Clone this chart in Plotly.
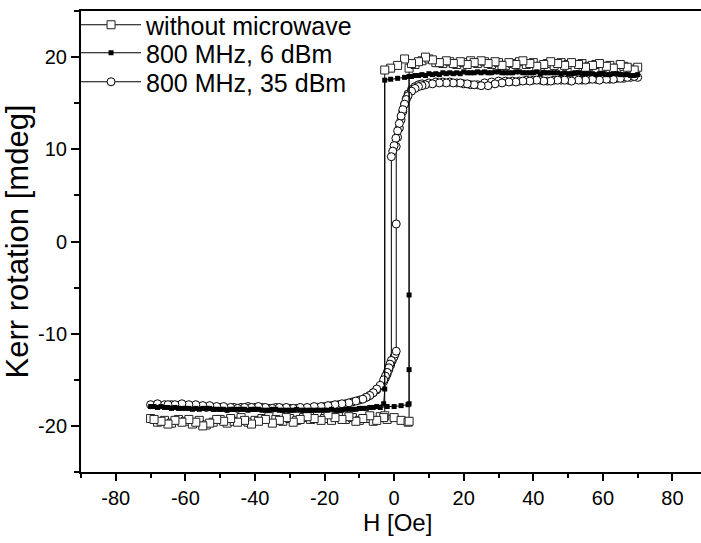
import plotly.graph_objects as go

# ---------------- data ----------------
# without microwave (open squares)
h_nomw = [-70, -68, -66, -64, -62, -60, -58, -56, -54, -52, -50, -48, -46, -44, -42, -40, -38, -36, -34, -32,
          -30, -28, -26, -24, -22, -20, -18, -16, -14, -12, -10, -8, -6, -4, -2, 0, 2, 4, 4.3, 4.3,
          6, 8, 10, 12, 14, 16, 18, 20, 22, 24, 26, 28, 30, 32, 34, 36, 38, 40, 42, 44, 46, 48, 50, 52,
          54, 56, 58, 60, 62, 64, 66, 68, 70,
          69, 67, 65, 63, 61, 59, 57, 55, 53, 51, 49, 47, 45, 43, 41, 39, 37, 35, 33, 31, 29, 27, 25, 23,
          21, 19, 17, 15, 13, 11, 9, 7, 5, 3, 1, -1, -2.7, -2.7,
          -3, -5, -7, -9, -11, -13, -15, -17, -19, -21, -23, -25, -27, -29, -31, -33, -35, -37, -39, -41,
          -43, -45, -47, -49, -51, -53, -55, -57, -59, -61, -63, -65, -67, -69]
k_nomw = [-19.2, -19.6, -19.4, -19.7, -19.3, -19.5, -19.8, -19.4, -19.9, -19.6, -19.3, -19.7, -19.5, -19.1,
          -19.6, -19.4, -19.2, -19.0, -19.3, -19.5, -19.2, -19.4, -19.1, -19.3, -18.9, -19.2, -19.4, -19.0,
          -19.3, -19.1, -19.4, -19.2, -19.5, -19.0, -19.3, -19.1, -19.4, -19.6, -19.5, 18.8,
          19.2, 19.6, 19.8, 19.4, 19.3, 19.5, 19.2, 19.4, 19.6, 19.3, 19.5, 19.2, 19.4, 19.1, 19.3, 19.5,
          19.2, 19.4, 19.0, 19.3, 19.1, 19.4, 19.2, 18.9, 19.3, 19.0, 19.2, 18.9, 19.1, 18.8, 19.0, 18.7, 18.9,
          18.6, 18.9, 19.2, 18.8, 19.0, 19.3, 19.1, 18.9, 19.2, 19.4, 19.1, 19.3, 19.5, 19.2, 19.0, 19.3,
          19.6, 19.2, 19.4, 19.1, 19.5, 19.3, 19.6, 19.4, 19.2, 19.5, 19.3, 19.6, 19.4, 19.7, 20.0, 19.5,
          19.3, 19.8, 19.1, 18.8, 18.6, -18.9,
          -19.1, -19.4, -18.9, -19.2, -19.5, -19.0, -19.3, -19.1, -18.8, -19.4, -19.2, -19.0, -19.3, -19.6,
          -19.1, -19.4, -19.7, -19.3, -19.5, -19.8, -19.4, -19.6, -19.2, -19.5, -19.3, -19.7, -20.0, -19.6,
          -19.3, -19.6, -19.4, -19.8, -19.5, -19.3]

# 800 MHz, 6 dBm (filled squares)
h_6dbm = [-70, -68, -66, -64, -62, -60, -58, -56, -54, -52, -50, -48, -46, -44, -42, -40, -38, -36, -34, -32,
          -30, -28, -26, -24, -22, -20, -18, -16, -14, -12, -10, -8, -6, -4, -2, 0, 2, 4, 4.3, 4.3, 4.3, 4.3,
          6, 8, 10, 12, 14, 16, 18, 20, 22, 24, 26, 28, 30, 32, 34, 36, 38, 40, 42, 44, 46, 48, 50, 52,
          54, 56, 58, 60, 62, 64, 66, 68, 70,
          69, 67, 65, 63, 61, 59, 57, 55, 53, 51, 49, 47, 45, 43, 41, 39, 37, 35, 33, 31, 29, 27, 25, 23,
          21, 19, 17, 15, 13, 11, 9, 7, 5, 3, 1, -1, -2.7, -2.7,
          -3, -5, -7, -9, -11, -13, -15, -17, -19, -21, -23, -25, -27, -29, -31, -33, -35, -37, -39, -41,
          -43, -45, -47, -49, -51, -53, -55, -57, -59, -61, -63, -65, -67, -69]
k_6dbm = [-17.9, -18.0, -18.0, -18.1, -18.1, -18.1, -18.2, -18.2, -18.1, -18.2, -18.2, -18.3, -18.2, -18.2,
          -18.3, -18.2, -18.3, -18.3, -18.2, -18.3, -18.3, -18.2, -18.3, -18.3, -18.3, -18.3, -18.2, -18.3,
          -18.2, -18.2, -18.1, -18.1, -18.0, -18.0, -17.9, -17.9, -17.8, -17.7, -17.6, -13.9, -5.8, 17.9,
          18.0, 18.1, 18.2, 18.2, 18.3, 18.3, 18.3, 18.4, 18.3, 18.4, 18.4, 18.3, 18.4, 18.3, 18.3, 18.4,
          18.3, 18.3, 18.2, 18.3, 18.3, 18.2, 18.2, 18.3, 18.2, 18.2, 18.1, 18.2, 18.1, 18.2, 18.1, 18.0, 18.1,
          18.0, 18.1, 18.1, 18.2, 18.1, 18.2, 18.2, 18.2, 18.3, 18.2, 18.3, 18.3, 18.3, 18.3, 18.4, 18.3,
          18.3, 18.4, 18.3, 18.3, 18.4, 18.3, 18.3, 18.3, 18.3, 18.2, 18.2, 18.2, 18.1, 18.1, 18.0, 18.0,
          17.9, 17.8, 17.7, 17.6, 17.5, -16.0,
          -17.6, -17.9, -18.0, -18.1, -18.2, -18.2, -18.3, -18.3, -18.3, -18.3, -18.3, -18.3, -18.3, -18.3,
          -18.3, -18.3, -18.2, -18.3, -18.2, -18.2, -18.2, -18.2, -18.2, -18.2, -18.2, -18.1, -18.1, -18.1,
          -18.1, -18.1, -18.0, -18.0, -17.9, -17.9]

# 800 MHz, 35 dBm (open circles)
h_35dbm = [-70, -68, -66, -64, -62, -60, -58, -56, -54, -52, -50, -48, -46, -44, -42, -40, -38, -36, -34, -32,
           -30, -28, -26, -24, -22, -20, -18, -16, -14, -12, -10, -8, -7, -6, -5, -4, -3, -2.5, -2, -1.5,
           -1, -0.5, 0, 0.3, 0.6, 0.6, 0.6, 1, 1.5, 2, 2.5, 3, 3.5, 4, 5, 6, 7, 8, 10, 12, 14, 16, 18, 20,
           22, 24, 26, 28, 30, 32, 34, 36, 38, 40, 42, 44, 46, 48, 50, 52, 54, 56, 58, 60, 62, 64, 66, 68, 70,
           69, 67, 65, 63, 61, 59, 57, 55, 53, 51, 49, 47, 45, 43, 41, 39, 37, 35, 33, 31, 29, 27, 25, 23,
           21, 19, 17, 15, 13, 11, 9, 8, 7, 6, 5, 4, 3.5, 3, 2.5, 2, 1.5, 1, 0.5, 0, -0.4, -0.8, -0.8,
           -1.2, -1.5, -2, -2.5, -3, -4, -5, -6, -7, -8, -9, -11, -13, -15, -17, -19, -21, -23, -25, -27,
           -29, -31, -33, -35, -37, -39, -41, -43, -45, -47, -49, -51, -53, -55, -57, -59, -61, -63, -65,
           -67, -69]
k_35dbm = [-17.7, -17.6, -17.7, -17.7, -17.8, -17.8, -17.9, -17.9, -18.0, -18.0, -18.0, -18.1, -18.0, -18.0,
           -17.9, -18.0, -18.0, -18.1, -18.0, -18.1, -18.1, -18.1, -18.2, -18.1, -18.0, -17.9, -17.8, -17.7,
           -17.6, -17.4, -17.2, -16.9, -16.7, -16.4, -16.1, -15.7, -15.2, -14.8, -14.4, -13.9, -13.4, -12.9,
           -12.5, -12.2, -11.9, 1.9, 10.3, 11.3, 12.3, 13.2, 14.1, 14.9, 15.5, 16.0, 16.5, 16.8, 17.0, 17.1,
           17.2, 17.3, 17.3, 17.3, 17.2, 17.1, 17.0, 17.0, 17.2, 17.3, 17.4, 17.4, 17.4, 17.4, 17.5, 17.5,
           17.5, 17.4, 17.5, 17.5, 17.5, 17.6, 17.5, 17.6, 17.6, 17.7, 17.6, 17.7, 17.7, 17.8, 17.8,
           17.9, 17.8, 17.7, 17.6, 17.6, 17.5, 17.6, 17.5, 17.5, 17.4, 17.5, 17.5, 17.4, 17.4, 17.5, 17.4,
           17.4, 17.3, 17.3, 17.2, 17.1, 16.9, 16.9, 17.0, 17.1, 17.2, 17.2, 17.2, 17.2, 17.1, 17.0, 16.9,
           16.8, 16.6, 16.3, 15.8, 15.4, 14.9, 14.3, 13.6, 12.8, 12.0, 11.2, 10.4, 9.8, 9.2, -12.9,
           -13.3, -13.7, -14.2, -14.6, -15.0, -15.6, -16.0, -16.4, -16.7, -16.9, -17.1, -17.3, -17.5, -17.6,
           -17.7, -17.8, -17.9, -17.9, -18.0, -18.0, -18.1, -18.0, -18.0, -18.1, -18.0, -17.9, -18.0, -18.0,
           -18.1, -18.0, -17.9, -17.9, -17.8, -17.8, -17.7, -17.7, -17.6, -17.7, -17.7]

names = ["without microwave", "800 MHz, 6 dBm", "800 MHz, 35 dBm"]

x_tickvals = [-80, -60, -40, -20, 0, 20, 40, 60, 80]
x_ticktext = ["-80", "-60", "-40", "-20", "0", "20", "40", "60", "80"]
y_tickvals = [-20, -10, 0, 10, 20]
y_ticktext = ["-20", "-10", "0", "10", "20"]

FONT = "Liberation Sans, Arial, sans-serif"
fig = go.Figure()

fig.add_trace(go.Scatter(
    x=h_35dbm, y=k_35dbm, name=names[2], mode="lines+markers", legend="legend3",
    line=dict(color="black", width=1),
    marker=dict(symbol="circle", size=8, color="white", line=dict(color="black", width=1)),
))
fig.add_trace(go.Scatter(
    x=h_nomw, y=k_nomw, name=names[0], mode="lines+markers", legend="legend",
    line=dict(color="black", width=1),
    marker=dict(symbol="square", size=8, color="white", line=dict(color="#222", width=1)),
))
fig.add_trace(go.Scatter(
    x=h_6dbm, y=k_6dbm, name=names[1], mode="lines+markers", legend="legend2",
    line=dict(color="black", width=1),
    marker=dict(symbol="square", size=5, color="black", line=dict(color="black", width=0)),
))

def leg(ypix):
    return dict(
        x=-0.008, y=(472 - ypix) / 461, xanchor="left", yanchor="middle",
        bgcolor="rgba(0,0,0,0)", borderwidth=0,
        font=dict(size=25, family=FONT, color="black"),
        itemwidth=60, visible=True,
    )

fig.update_layout(
    width=701, height=543,
    margin=dict(l=81, r=0, t=11, b=71),
    plot_bgcolor="white", paper_bgcolor="white",
    font=dict(family=FONT, color="black"),
    showlegend=True,
    legend=leg(25), legend2=leg(53), legend3=leg(82),
    xaxis=dict(
        range=[-90, 88.2], showgrid=False, zeroline=False,
        showline=True, linewidth=2, linecolor="black", mirror=True,
        ticks="outside", ticklen=7, tickwidth=1.5, tickcolor="black",
        tickvals=x_tickvals, ticktext=x_ticktext,
        minor=dict(ticks="outside", ticklen=4, tickwidth=1.5, tickcolor="black", dtick=10, tick0=-90, showgrid=False),
        tickfont=dict(size=20, family=FONT),
    ),
    xaxis2=dict(
        range=[-90, 88.2], overlaying="x", side="top", anchor="y",
        showgrid=False, zeroline=False, showline=False, showticklabels=False,
        ticks="inside", ticklen=3, tickwidth=1.5, tickcolor="black", tick0=-90, dtick=10,
    ),
    yaxis=dict(
        range=[-25, 25], showgrid=False, zeroline=False,
        showline=True, linewidth=2, linecolor="black",
        ticks="outside", ticklen=8, tickwidth=1.5, tickcolor="black",
        tickvals=y_tickvals, ticktext=y_ticktext,
        minor=dict(ticks="outside", ticklen=5, tickwidth=1.5, tickcolor="black", dtick=5, tick0=0, showgrid=False),
        tickfont=dict(size=20, family=FONT),
        title=dict(text="Kerr rotation [mdeg]", font=dict(size=31, family=FONT), standoff=6),
    ),
    annotations=[dict(
        text="H [Oe]", xref="paper", yref="paper", x=(398 - 81) / 620, y=(472 - 522) / 461,
        xanchor="center", yanchor="middle", showarrow=False,
        font=dict(size=24, family=FONT, color="black"),
    )],
)

fig.write_html("out.html")
